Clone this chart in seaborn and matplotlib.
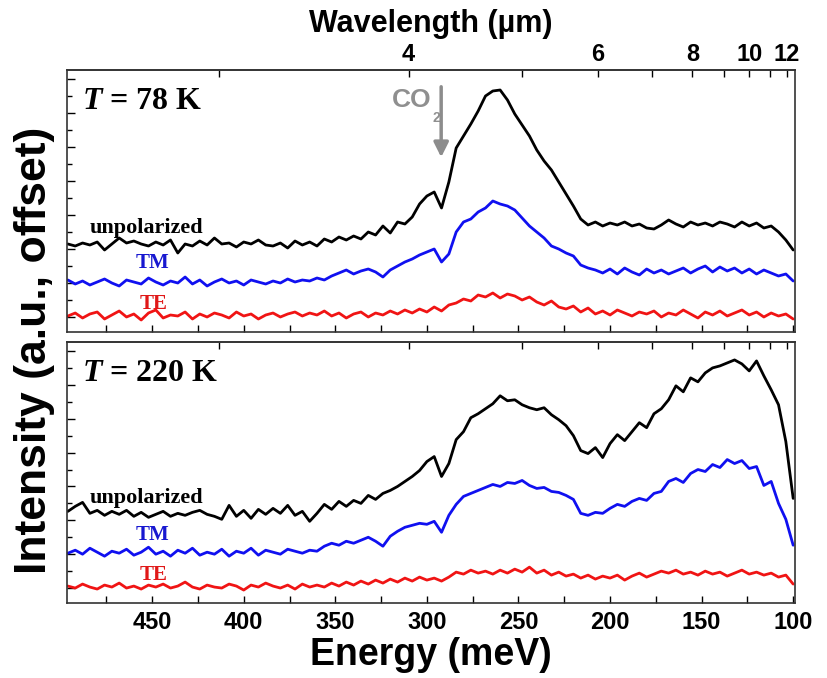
import numpy as np
import pandas as pd
import matplotlib
matplotlib.use("Agg")
import matplotlib.pyplot as plt
import seaborn as sns
from matplotlib.ticker import MultipleLocator, FixedLocator

# ---------------- data (intensity in a.u., offset) ----------------
energy = np.arange(496, 99, -4)  # meV sampling grid, 100 points

top_unpol = [88, 86, 89, 87, 90, 82, 88, 94, 89, 91, 88, 86, 90, 87, 92, 79, 88, 86, 91, 87,
             94, 88, 89, 85, 90, 88, 92, 87, 86, 89, 84, 91, 87, 90, 86, 93, 90, 95, 92, 96,
             93, 100, 97, 106, 99, 110, 108, 115, 128, 136, 140, 124, 150, 184, 196, 208, 221, 236, 241, 242,
             232, 218, 207, 196, 182, 171, 162, 150, 138, 126, 113, 107, 110, 106, 109, 107, 110, 106, 108, 104,
             103, 107, 112, 108, 105, 110, 107, 109, 106, 110, 108, 105, 110, 106, 109, 104, 106, 100, 92, 82]
top_tm = [52, 48, 51, 47, 50, 53, 49, 46, 52, 50, 48, 54, 50, 47, 51, 49, 55, 48, 52, 46,
          50, 53, 49, 51, 47, 52, 50, 48, 51, 49, 53, 50, 52, 51, 54, 52, 56, 59, 62, 58,
          61, 63, 60, 55, 62, 66, 70, 73, 77, 80, 83, 70, 78, 100, 110, 113, 120, 124, 131, 128,
          126, 122, 114, 106, 100, 94, 86, 83, 79, 76, 67, 64, 62, 59, 63, 58, 64, 60, 57, 63,
          59, 62, 58, 61, 64, 59, 63, 66, 60, 65, 61, 64, 59, 63, 58, 62, 59, 56, 58, 51]
top_te = [16, 19, 14, 18, 20, 13, 17, 21, 15, 18, 12, 19, 22, 14, 17, 16, 20, 13, 18, 15,
          19, 17, 14, 20, 16, 18, 13, 17, 19, 15, 18, 20, 16, 19, 17, 21, 16, 19, 14, 18,
          20, 15, 19, 17, 21, 18, 22, 19, 23, 20, 25, 21, 27, 29, 33, 31, 37, 35, 39, 34,
          38, 36, 32, 35, 30, 27, 31, 25, 23, 26, 20, 24, 18, 21, 17, 22, 19, 16, 20, 18,
          21, 15, 19, 17, 22, 18, 14, 20, 17, 21, 16, 19, 22, 17, 20, 15, 19, 16, 18, 13]

bot_unpol = [92, 97, 101, 90, 93, 88, 92, 89, 93, 87, 91, 86, 89, 92, 87, 90, 88, 91, 93, 89,
             87, 84, 98, 87, 93, 85, 94, 89, 95, 90, 98, 88, 92, 82, 90, 99, 94, 102, 97, 103,
             100, 108, 104, 110, 113, 117, 122, 127, 133, 142, 147, 127, 140, 164, 172, 186, 190, 195, 200, 208,
             203, 204, 199, 196, 194, 196, 189, 184, 178, 168, 153, 150, 156, 146, 160, 169, 163, 172, 181, 176,
             190, 195, 204, 218, 212, 226, 222, 231, 236, 238, 241, 244, 240, 233, 243, 228, 214, 199, 162, 105]
bot_tm = [50, 53, 49, 55, 51, 47, 52, 50, 54, 48, 51, 56, 49, 52, 47, 53, 50, 55, 48, 51,
          49, 54, 47, 52, 50, 55, 48, 53, 51, 49, 54, 52, 50, 53, 52, 57, 60, 58, 62, 60,
          63, 66, 62, 57, 67, 72, 76, 78, 80, 79, 82, 71, 88, 99, 107, 110, 113, 116, 119, 117,
          121, 120, 123, 118, 115, 116, 112, 111, 108, 104, 90, 88, 91, 90, 95, 99, 97, 102, 105, 103,
          110, 112, 122, 125, 121, 130, 134, 132, 139, 136, 144, 140, 143, 135, 137, 118, 122, 100, 84, 58]
bot_te = [17, 15, 19, 16, 14, 18, 16, 20, 15, 17, 14, 18, 16, 19, 15, 17, 21, 16, 14, 18,
          16, 15, 19, 17, 13, 18, 16, 20, 17, 15, 18, 14, 19, 16, 18, 16, 20, 17, 21, 18,
          22, 19, 23, 20, 24, 21, 25, 22, 26, 23, 25, 22, 26, 31, 29, 33, 30, 32, 29, 33,
          30, 34, 31, 36, 30, 33, 28, 31, 27, 29, 25, 28, 24, 27, 25, 28, 23, 27, 30, 26,
          29, 32, 30, 33, 29, 31, 28, 32, 29, 31, 27, 30, 33, 29, 31, 28, 30, 26, 28, 19]

series_names = ["unpolarized", "TM", "TE"]
temperatures = ["78", "220"]
wl_major = [4, 6, 8, 10, 12]
wl_minor = [3, 5, 7, 9, 11]

# ---------------- style ----------------
sns.set_theme(style="ticks")
plt.rcParams["font.family"] = ["Liberation Sans", "DejaVu Sans"]
plt.rcParams["mathtext.fontset"] = "custom"
plt.rcParams["mathtext.it"] = "Liberation Serif:italic:bold"
plt.rcParams["mathtext.rm"] = "Liberation Serif:bold"
plt.rcParams["text.color"] = "black"
plt.rcParams["axes.labelcolor"] = "black"
plt.rcParams["xtick.color"] = "black"
plt.rcParams["ytick.color"] = "black"

palette = {"unpolarized": "#000000", "TM": "#1010f0", "TE": "#f01414"}
label_colors = {"unpolarized": "#000000", "TM": "#1818d0", "TE": "#e01818"}

fig = plt.figure(figsize=(8.28, 6.78), dpi=100)
W, H = 828, 678
ax1 = fig.add_axes([67 / W, 1 - 332 / H, (795 - 67) / W, (332 - 70) / H])
ax2 = fig.add_axes([67 / W, 1 - 603 / H, (795 - 67) / W, (603 - 342) / H])


def e2l(x):
    x = np.asarray(x, dtype=float)
    with np.errstate(divide="ignore", invalid="ignore"):
        return 1239.84 / x


panels = [(ax1, [top_unpol, top_tm, top_te], temperatures[0]),
          (ax2, [bot_unpol, bot_tm, bot_te], temperatures[1])]

for k, (ax, vals, temp) in enumerate(panels):
    df = pd.DataFrame({
        "Energy": np.tile(energy, 3),
        "I": np.concatenate([np.asarray(v, float) for v in vals]),
        "pol": np.repeat(series_names, len(energy)),
    })
    sns.lineplot(data=df, x="Energy", y="I", hue="pol", palette=palette,
                 linewidth=2.0, legend=False, ax=ax, sort=False, estimator=None)
    ax.set_xlim(496.5, 99)
    ax.set_ylim(0, 262)
    ax.set_xlabel("")
    ax.set_ylabel("")
    for sp in ax.spines.values():
        sp.set_visible(True)
        sp.set_color("#333333")
        sp.set_linewidth(1.2)
    ax.xaxis.set_major_locator(MultipleLocator(50))
    ax.xaxis.set_minor_locator(MultipleLocator(25))
    ax.tick_params(axis="x", which="both", direction="in", length=5, width=1,
                   top=False, labelbottom=(k == 1), labelsize=17, pad=6, colors="black")
    ax.yaxis.set_major_locator(FixedLocator(np.arange(15, 262, 34)))
    ax.yaxis.set_minor_locator(FixedLocator(np.arange(32, 262, 34)))
    ax.tick_params(axis="y", which="major", direction="in", length=6, width=1, labelleft=False)
    ax.tick_params(axis="y", which="minor", direction="in", length=3.5, width=1, labelleft=False)
    for lab in ax.get_xticklabels():
        lab.set_fontweight("bold")

    sec = ax.secondary_xaxis("top", functions=(e2l, e2l))
    sec.set_xticks(wl_major)
    sec.xaxis.set_minor_locator(FixedLocator(wl_minor))
    sec.tick_params(axis="x", which="both", direction="in", length=5, width=1,
                    labeltop=(k == 0), labelsize=17, pad=3, colors="black")
    sec.spines["top"].set_color("#333333")
    sec.spines["top"].set_linewidth(1.2)
    if k == 0:
        sec.set_xticklabels([str(v) for v in wl_major], fontweight="bold", fontsize=17)
        sec.set_xlabel("Wavelength (\u00b5m)", fontsize=22, fontweight="bold", labelpad=8)

    # series labels
    ax.text(453, 104 if k == 0 else 105, series_names[0], ha="center", va="center",
            fontsize=16, family="Liberation Serif", fontweight="bold", color=label_colors["unpolarized"])
    ax.text(450, 69 if k == 0 else 68, series_names[1], ha="center", va="center",
            fontsize=15, family="Liberation Serif", fontweight="bold", color=label_colors["TM"])
    ax.text(449, 28, series_names[2], ha="center", va="center",
            fontsize=15, family="Liberation Serif", fontweight="bold", color=label_colors["TE"])
    ax.text(0.02, 0.88, "$T$ = %s K" % temp, transform=ax.transAxes, ha="left", va="center",
            fontsize=23, family="Liberation Serif", fontweight="bold", color="black")

ax2.set_xlabel("Energy (meV)", fontsize=27, fontweight="bold", labelpad=2)

# CO2 marker
ax1.text(297.5, 232, "CO", ha="right", va="center", fontsize=19, fontweight="bold", color="#8f8f8f")
ax1.text(296.8, 214, "2", ha="left", va="center", fontsize=10, fontweight="bold", color="#8f8f8f")
ax1.annotate("", xy=(292.2, 172), xytext=(292.2, 248),
             arrowprops=dict(arrowstyle="-|>", color="#8c8c8c", lw=2.5, mutation_scale=22))

fig.text(35 / W, 1 - 350 / H, "Intensity (a.u., offset)", rotation=90, ha="center", va="center",
         fontsize=32, fontweight="bold")

fig.savefig("out.png", dpi=100)
